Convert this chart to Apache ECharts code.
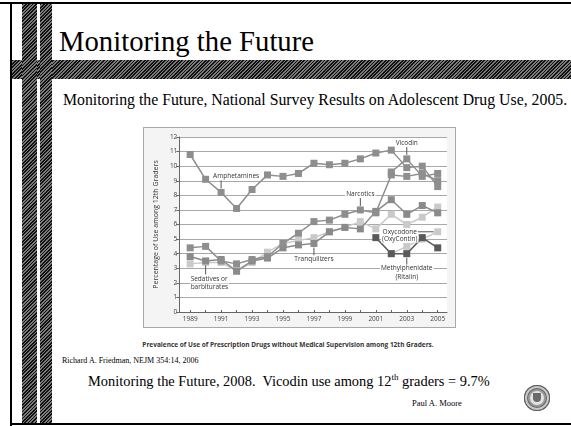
<!DOCTYPE html>
<html>
<head>
<meta charset="utf-8">
<script src="https://cdn.jsdelivr.net/npm/echarts@6/dist/echarts.min.js"></script>
<style>
  html, body { margin: 0; padding: 0; background: #fff; }
  body { width: 571px; height: 426px; position: relative; overflow: hidden; font-family: "Liberation Serif", "Times New Roman", serif; }
  .abs { position: absolute; white-space: nowrap; }
  .hatch { background: repeating-linear-gradient(135deg, #111 0px, #111 1.2px, #7a7a7a 1.2px, #7a7a7a 2.4px); }
  #frame { position: absolute; left: 143px; top: 127px; width: 311px; height: 199px; border: 1px solid #a8a8a8; background: #f4f4f4; }
  #chart { width: 311px; height: 199px; }
</style>
</head>
<body>
<!-- slide decoration -->
<div class="abs" style="left:0;top:2px;width:571px;height:2px;background:#000;"></div>
<div class="abs" style="left:10px;top:2px;width:2px;height:424px;background:#000;"></div>
<div class="abs" style="left:10px;top:423px;width:561px;height:2px;background:#000;"></div>
<div class="abs hatch" style="left:12px;top:60px;width:559px;height:19px;"></div>
<div class="abs hatch" style="left:22px;top:4px;width:15px;height:419px;"></div>
<div class="abs hatch" style="left:40px;top:4px;width:12px;height:419px;"></div>

<div class="abs" style="left:59px;top:23px;font-size:28.7px;line-height:36px;color:#000;">Monitoring the Future</div>
<div class="abs" style="left:63px;top:90px;font-size:15.8px;line-height:20px;color:#000;">Monitoring the Future, National Survey Results on Adolescent Drug Use, 2005.</div>

<div id="frame"><div id="chart"></div></div>

<div class="abs" style="left:133px;width:310px;top:339px;text-align:center;font-family:'Open Sans','Noto Sans',sans-serif;font-weight:bold;font-size:6.5px;line-height:12px;color:#333;">Prevalence of Use of Prescription Drugs without Medical Supervision among 12th Graders.</div>
<div class="abs" style="left:62px;top:355px;font-size:8px;line-height:12px;color:#000;">Richard A. Friedman, NEJM 354:14, 2006</div>
<div class="abs" style="left:88px;top:371px;font-size:14.4px;line-height:20px;color:#000;">Monitoring the Future, 2008.&nbsp; Vicodin use among 12<sup style="font-size:9px;line-height:0;">th</sup> graders = 9.7%</div>
<div class="abs" style="left:412px;top:397px;font-size:8.5px;line-height:12px;color:#000;">Paul A. Moore</div>
<div class="abs" style="left:524px;top:385px;width:26px;height:26px;border-radius:50%;background:#9a9a9a;box-shadow:inset 0 0 0 1px #555, inset 0 0 0 3px #c8c8c8, inset 0 0 0 4px #666;"></div>
<div class="abs" style="left:530px;top:391px;width:14px;height:14px;border-radius:50%;background:#e4e4e4;"></div>
<div class="abs" style="left:533px;top:393px;width:8px;height:9px;background:#6a6a6a;border-radius:0 0 4px 4px;"></div>

<script>
// ---- data ----
const years = [1989,1990,1991,1992,1993,1994,1995,1996,1997,1998,1999,2000,2001,2002,2003,2004,2005];
const amphetamines = [10.8,9.1,8.2,7.1,8.4,9.4,9.3,9.5,10.2,10.1,10.2,10.5,10.9,11.1,9.9,10.0,8.6];
const narcotics = [4.4,4.5,3.5,3.3,3.6,3.8,4.7,5.4,6.2,6.3,6.7,7.0,6.8,9.4,9.3,9.5,9.0];
const tranquilizers = [3.8,3.5,3.6,2.8,3.5,3.7,4.4,4.6,4.7,5.5,5.8,5.7,6.9,7.7,6.7,7.3,6.8];
const sedatives = [3.3,3.4,3.4,2.8,3.4,4.1,4.7,4.9,5.1,5.5,5.8,6.2,5.7,6.7,6.0,6.5,7.2];
const vicodinYears = [2002,2003,2004,2005];
const vicodin = [9.6,10.5,9.3,9.5];
const oxycontinYears = [2002,2003,2004,2005];
const oxycontin = [4.0,4.5,5.0,5.5];
const ritalinYears = [2001,2002,2003,2004,2005];
const ritalin = [5.1,4.0,4.0,5.1,4.4];
const labelYears = [1989,1991,1993,1995,1997,1999,2001,2003,2005];
const yTitle = 'Percentage of Use among 12th Graders';

const pairs = (xs, vs) => xs.map((x, i) => [x, vs[i]]);
const FONT = "'Open Sans','Noto Sans',sans-serif";

function lineSeries(name, xs, vs, color, z) {
  return {
    name, type: 'line', data: pairs(xs, vs), z,
    symbol: 'rect', symbolSize: 7,
    lineStyle: { color, width: 1.5 },
    itemStyle: { color },
    animation: false
  };
}

const chart = echarts.init(document.getElementById('chart'), null, { renderer: 'canvas' });
chart.setOption({
  animation: false,
  grid: { left: 30, right: 8, top: 9, bottom: 15, show: true, backgroundColor: '#fff', borderWidth: 0 },
  xAxis: {
    type: 'value', min: 1988.3, max: 2005.6,
    axisLine: { lineStyle: { color: '#666', width: 1 } },
    axisTick: { inside: true, length: 2, lineStyle: { color: '#666' }, customValues: years },
    axisLabel: { customValues: labelYears, fontSize: 6.5, color: '#444', fontFamily: FONT, margin: 4, formatter: v => String(v) },
    splitLine: { show: false }
  },
  yAxis: {
    type: 'value', min: 0, max: 12, interval: 1,
    name: yTitle, nameLocation: 'middle', nameGap: 19,
    nameTextStyle: { fontSize: 7, color: '#333', fontFamily: FONT },
    axisLine: { show: true, lineStyle: { color: '#666', width: 1 } },
    axisTick: { show: true, length: 3, lineStyle: { color: '#666' } },
    axisLabel: { fontSize: 6.5, color: '#444', fontFamily: FONT, margin: 2 },
    splitLine: { show: true, lineStyle: { color: '#a8a8a8', width: 1 } }
  },
  series: [
    lineSeries('Sedatives or barbiturates', years, sedatives, '#cacaca', 2),
    lineSeries('Oxycodone (OxyContin)', oxycontinYears, oxycontin, '#cacaca', 2),
    lineSeries('Tranquilizers', years, tranquilizers, '#8a8a8a', 3),
    lineSeries('Narcotics', years, narcotics, '#8e8e8e', 3),
    lineSeries('Amphetamines', years, amphetamines, '#8e8e8e', 3),
    lineSeries('Vicodin', vicodinYears, vicodin, '#8e8e8e', 3),
    lineSeries('Methylphenidate (Ritalin)', ritalinYears, ritalin, '#5a5a5a', 4)
  ]
});

// annotations anchored on data points
function px(x, y) { return chart.convertToPixel({ gridIndex: 0 }, [x, y]); }
const txtStyle = (text, x, y, align) => ({
  type: 'text', z: 10,
  style: { text, x, y, align: align || 'center', verticalAlign: 'middle', fill: '#333', font: "6.5px " + FONT, backgroundColor: '#fff', padding: [0, 1] }
});
const seg = (x1, y1, x2, y2) => ({ type: 'line', z: 9, shape: { x1, y1, x2, y2 }, style: { stroke: '#555', lineWidth: 1 } });

const g = [];
let p;
p = px(1991, amphetamines[2]);
g.push(seg(p[0], p[1] - 4, p[0], p[1] - 12), txtStyle('Amphetamines', p[0] + 15, p[1] - 16));
p = px(2000, narcotics[11]);
g.push(seg(p[0], p[1] - 4, p[0], p[1] - 12), txtStyle('Narcotics', p[0], p[1] - 16));
p = px(2003, vicodin[1]);
g.push(seg(p[0], p[1] - 4, p[0], p[1] - 12), txtStyle('Vicodin', p[0], p[1] - 15.5));
p = px(1997, tranquilizers[8]);
g.push(seg(p[0], p[1] + 4, p[0], p[1] + 12), txtStyle('Tranquilizers', p[0], p[1] + 15.5));
p = px(1990, sedatives[1]);
g.push(seg(p[0], p[1] + 3, p[0], p[1] + 12), txtStyle('Sedatives or', p[0] - 16, p[1] + 17, 'left'), txtStyle('barbiturates', p[0] - 16, p[1] + 24.5, 'left'));
p = px(2005, oxycontin[3]);
g.push(seg(p[0] - 20, p[1], p[0] - 4, p[1]), txtStyle('Oxycodone', p[0] - 38, p[1]), txtStyle('(OxyContin)', p[0] - 38, p[1] + 7.5));
p = px(2003, ritalin[2]);
g.push(seg(p[0], p[1] + 4, p[0], p[1] + 11), txtStyle('Methylphenidate', p[0], p[1] + 14.7), txtStyle('(Ritalin)', p[0], p[1] + 23));
chart.setOption({ graphic: g });
</script>
</body>
</html>
